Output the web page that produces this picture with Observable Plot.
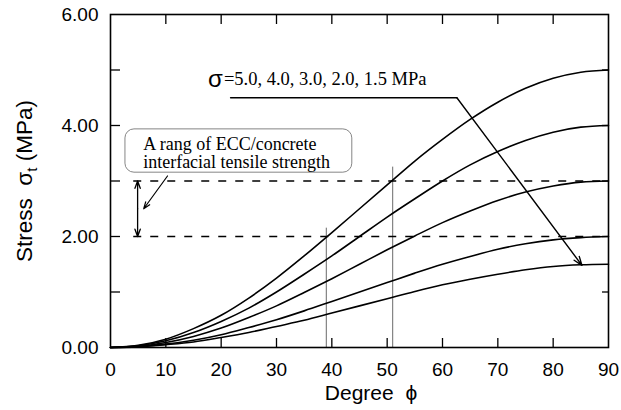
<!DOCTYPE html>
<html>
<head>
<meta charset="utf-8">
<script src="https://cdn.jsdelivr.net/npm/d3@7"></script>
<script src="https://cdn.jsdelivr.net/npm/@observablehq/plot@0.6"></script>
<style>
  body { margin: 0; background: #fff; }
</style>
</head>
<body>
<div id="chart"></div>
<script>
// Degree phi sample points
const phi = [0,5,10,15,20,25,30,35,40,45,50,55,60,65,70,75,80,85,90];
// Stress sigma_t for sigma = 5.0, 4.0, 3.0, 2.0, 1.5 MPa
const s50 = [0,0.04,0.15,0.34,0.58,0.89,1.25,1.65,2.07,2.50,2.93,3.36,3.75,4.11,4.42,4.67,4.85,4.96,5.00];
const s40 = [0,0.03,0.12,0.27,0.47,0.71,1.00,1.32,1.65,2.00,2.35,2.68,3.00,3.29,3.53,3.73,3.88,3.97,4.00];
const s30 = [0,0.02,0.09,0.20,0.35,0.54,0.75,0.99,1.24,1.50,1.76,2.01,2.25,2.46,2.65,2.80,2.91,2.98,3.00];
const s20 = [0,0.02,0.06,0.13,0.23,0.36,0.50,0.66,0.83,1.00,1.17,1.34,1.50,1.64,1.77,1.87,1.94,1.98,2.00];
const s15 = [0,0.01,0.05,0.10,0.18,0.27,0.38,0.49,0.62,0.75,0.88,1.01,1.13,1.23,1.32,1.40,1.46,1.49,1.50];
const seriesNames = ["5.0","4.0","3.0","2.0","1.5"];
const seriesValues = [s50, s40, s30, s20, s15];

// Axis ticks
const xTicks = [0,10,20,30,40,50,60,70,80,90];
const yLabelTicks = [0,2,4,6];
const yAllTicks = [0,1,2,3,4,5,6];

// Annotation values
const strengthRange = [2.0, 3.0];
const markerDegrees = [39, 51];
const markerTops = [2.15, 3.25];
const sigmaLabel = "=5.0, 4.0, 3.0, 2.0, 1.5 MPa";
const boxLines = ["A rang of ECC/concrete", "interfacial tensile strength"];

const rows = [];
seriesNames.forEach((name, i) => {
  phi.forEach((p, j) => rows.push({series: name, phi: p, stress: seriesValues[i][j]}));
});

const W = 621, H = 410;
const mL = 110, mR = 13, mT = 14, mB = 63;
const pw = W - mL - mR, ph = H - mT - mB;

const serif = "Liberation Serif, Times New Roman, serif";
const sans = "Liberation Sans, Arial, sans-serif";

const chart = Plot.plot({
  width: W, height: H,
  marginLeft: mL, marginRight: mR, marginTop: mT, marginBottom: mB,
  style: {fontFamily: sans, background: "white", color: "black"},
  x: {domain: [0, 90], axis: null},
  y: {domain: [0, 6], axis: null},
  marks: [
    // tick labels
    Plot.axisX({ticks: xTicks, tickSize: 0, tickPadding: 15, tickFormat: d3.format("d"), fontSize: 19, label: null}),
    Plot.axisY({ticks: yLabelTicks, tickSize: 0, tickPadding: 12, tickFormat: d3.format(".2f"), fontSize: 19, label: null}),
    // inward ticks
    Plot.tickX(xTicks.slice(1, -1), {x: d => d, insetTop: ph - 9, strokeWidth: 1.3}),
    Plot.tickX(xTicks.slice(1, -1), {x: d => d, insetBottom: ph - 10, strokeWidth: 1.3}),
    Plot.tickY(yAllTicks.slice(1, -1), {y: d => d, insetRight: pw - 10, strokeWidth: 1.3}),
    Plot.tickY(yAllTicks.slice(1, -1), {y: d => d, insetLeft: pw - 6, strokeWidth: 1.3}),
    // thin marker lines
    Plot.ruleX(markerDegrees, {x: d => d, y1: 0, y2: (d, i) => markerTops[i], stroke: "#444", strokeWidth: 0.8}),
    // dashed strength range
    Plot.ruleY(strengthRange, {y: d => d, x1: 4.2, x2: 90, stroke: "black", strokeWidth: 1.4, strokeDasharray: "8,9"}),
    // curves
    Plot.line(rows, {x: "phi", y: "stress", z: "series", stroke: "black", strokeWidth: 1.6, curve: "monotone-x"}),
    // box
    Plot.rect([0], {x1: 2.7, x2: 43.7, y1: 3.15, y2: 3.93, rx: 9, fill: "white", stroke: "#777", strokeWidth: 0.9}),
    Plot.text(boxLines, {x: 5.9, y: (d, i) => 3.66 - i * 0.33, text: d => d, textAnchor: "start", fontFamily: serif, fontSize: 18, fill: "black"}),
    // double arrow
    Plot.arrow([0, 1], {x1: 4.9, x2: 4.9, y1: 2.5, y2: (d) => strengthRange[d], stroke: "black", strokeWidth: 1.3, headLength: 9, headAngle: 40}),
    // arrow from box
    Plot.arrow([0], {x1: 10.3, y1: 3.09, x2: 6.0, y2: 2.5, stroke: "black", strokeWidth: 1.2, headLength: 9, headAngle: 40}),
    // sigma label
    Plot.text([0], {x: 20.3, y: 4.84, text: () => "σ", textAnchor: "end", fontFamily: sans, fontSize: 24, fill: "black"}),
    Plot.text([0], {x: 20.5, y: 4.83, text: () => sigmaLabel, textAnchor: "start", fontFamily: serif, fontSize: 18.5, fill: "black"}),
    Plot.line([[21.7, 4.5], [62.6, 4.5]], {stroke: "black", strokeWidth: 1.4}),
    Plot.arrow([0], {x1: 62.6, y1: 4.5, x2: 85.2, y2: 1.48, stroke: "black", strokeWidth: 1.4, headLength: 10, headAngle: 40}),
    Plot.frame({stroke: "black", strokeWidth: 1.6})
  ]
});

const svg = d3.select(chart);
// x axis label
svg.append("text")
  .attr("x", 371).attr("y", 400)
  .attr("text-anchor", "middle")
  .attr("font-family", sans).attr("font-size", 21).attr("fill", "black")
  .text("Degree  ϕ");
// y axis label with subscript
const yl = svg.append("text")
  .attr("transform", "translate(32,181) rotate(-90)")
  .attr("text-anchor", "middle")
  .attr("font-family", sans).attr("font-size", 22.5).attr("fill", "black");
yl.append("tspan").text("Stress  σ");
yl.append("tspan").attr("font-size", 15).attr("dy", 5).text("t");
yl.append("tspan").attr("dy", -5).text(" (MPa)");

document.getElementById("chart").appendChild(chart);
</script>
</body>
</html>
